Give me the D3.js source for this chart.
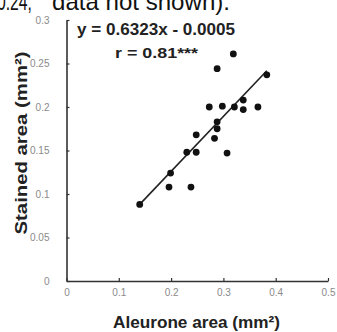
<!DOCTYPE html>
<html>
<head>
<meta charset="utf-8">
<script src="https://cdn.jsdelivr.net/npm/d3@7"></script>
<style>
  html, body { margin: 0; padding: 0; background: #fff; overflow: hidden; }
  svg { display: block; font-family: "Liberation Sans", Arial, sans-serif; }
</style>
</head>
<body>
<svg id="chart" width="337" height="332"></svg>
<script>
// ---- data ----
const aleurone = [0.319, 0.288, 0.383, 0.273, 0.298, 0.321, 0.338, 0.338, 0.366, 0.288,
                  0.288, 0.283, 0.248, 0.230, 0.248, 0.307, 0.199, 0.196, 0.238, 0.140];
const stained  = [0.261, 0.244, 0.237, 0.200, 0.201, 0.200, 0.208, 0.197, 0.200, 0.183,
                  0.175, 0.164, 0.168, 0.148, 0.148, 0.147, 0.124, 0.108, 0.108, 0.088];
const xTicks = [0, 0.1, 0.2, 0.3, 0.4, 0.5];
const xTickLabels = ["0", "0.1", "0.2", "0.3", "0.4", "0.5"];
const yTicks = [0, 0.05, 0.1, 0.15, 0.2, 0.25, 0.3];
const yTickLabels = ["0", "0.05", "0.1", "0.15", "0.2", "0.25", "0.3"];
const regression = [0.6323, -0.0005]; // slope, intercept
const equationText = "y = 0.6323x - 0.0005";
const rText = "r = 0.81***";
const xTitle = "Aleurone area (mm²)";
const yTitle = "Stained area (mm²)";

// ---- drawing ----
const svg = d3.select("#chart");
const x = d3.scaleLinear().domain([0, 0.5]).range([66.5, 328]);
const y = d3.scaleLinear().domain([0, 0.3]).range([281, 20]);

// cut-off text at the top
svg.append("text").attr("x", -3).attr("y", 10).attr("font-size", 24)
  .attr("fill", "#111").attr("textLength", 35).attr("lengthAdjust", "spacingAndGlyphs")
  .text("0.24;");
svg.append("text").attr("x", 52).attr("y", 10).attr("font-size", 24)
  .attr("fill", "#111").attr("textLength", 178).attr("lengthAdjust", "spacingAndGlyphs")
  .text("data not shown).");

const xAxis = d3.axisBottom(x).tickValues(xTicks)
  .tickFormat((d, i) => xTickLabels[i]).tickSizeInner(-3).tickSizeOuter(0).tickPadding(8);
const yAxis = d3.axisLeft(y).tickValues(yTicks)
  .tickFormat((d, i) => yTickLabels[i]).tickSizeInner(-3).tickSizeOuter(0).tickPadding(17);

const gx = svg.append("g").attr("transform", `translate(0,${y(0)})`).call(xAxis);
const gy = svg.append("g").attr("transform", `translate(${x(0)},0)`).call(yAxis);
[gx, gy].forEach(g => {
  g.select(".domain").attr("stroke", "#333").attr("stroke-width", 1.6);
  g.selectAll(".tick line").attr("stroke", "#333").attr("stroke-width", 1.2);
  g.selectAll(".tick text").attr("fill", "#8a8a8a").attr("font-size", 10)
    .attr("font-family", "'Liberation Sans Narrow', 'Liberation Sans', Arial, sans-serif");
});

// regression line over data extent
const ext = d3.extent(aleurone);
const line = d3.line().x(d => x(d)).y(d => y(regression[0] * d + regression[1]));
svg.append("path").datum(ext).attr("d", line)
  .attr("stroke", "#222").attr("stroke-width", 1.6).attr("fill", "none");

// points
svg.append("g").selectAll("circle").data(aleurone).join("circle")
  .attr("cx", d => x(d)).attr("cy", (d, i) => y(stained[i])).attr("r", 3.4)
  .attr("fill", "#111");

// annotations
svg.append("text").attr("x", 77).attr("y", 35).attr("font-size", 16).attr("font-weight", "bold")
  .attr("fill", "#222").attr("textLength", 158).attr("lengthAdjust", "spacingAndGlyphs")
  .text(equationText);
svg.append("text").attr("x", 115).attr("y", 58).attr("font-size", 15).attr("font-weight", "bold")
  .attr("fill", "#222").attr("textLength", 83).attr("lengthAdjust", "spacingAndGlyphs")
  .text(rText);

// axis titles
svg.append("text").attr("x", 196.5).attr("y", 328).attr("text-anchor", "middle")
  .attr("font-size", 17).attr("font-weight", "bold").attr("fill", "#222")
  .attr("textLength", 167).attr("lengthAdjust", "spacingAndGlyphs")
  .text(xTitle);
svg.append("text").attr("transform", "translate(27,143) rotate(-90)").attr("text-anchor", "middle")
  .attr("font-size", 17).attr("font-weight", "bold").attr("fill", "#222")
  .attr("textLength", 183).attr("lengthAdjust", "spacingAndGlyphs")
  .text(yTitle);
</script>
</body>
</html>
